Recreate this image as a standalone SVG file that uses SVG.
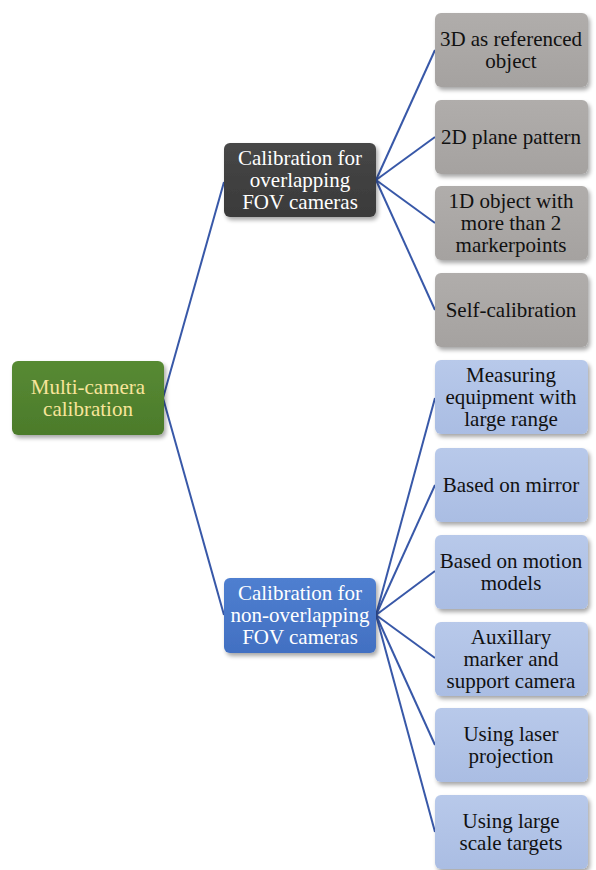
<svg xmlns="http://www.w3.org/2000/svg" width="596" height="870" viewBox="0 0 596 870">
<defs>
<filter id="sh" x="-10%" y="-10%" width="125%" height="130%">
<feGaussianBlur in="SourceAlpha" stdDeviation="2"/>
<feOffset dx="2" dy="3" result="b"/>
<feComponentTransfer><feFuncA type="linear" slope="0.35"/></feComponentTransfer>
<feMerge><feMergeNode/><feMergeNode in="SourceGraphic"/></feMerge>
</filter>
<linearGradient id="gGreen" x1="0" y1="0" x2="0" y2="1"><stop offset="0" stop-color="#578a33"/><stop offset="1" stop-color="#4c7b2b"/></linearGradient>
<linearGradient id="gDark" x1="0" y1="0" x2="0" y2="1"><stop offset="0" stop-color="#474747"/><stop offset="1" stop-color="#3a3a3a"/></linearGradient>
<linearGradient id="gBlue" x1="0" y1="0" x2="0" y2="1"><stop offset="0" stop-color="#4f7fd0"/><stop offset="1" stop-color="#4270c2"/></linearGradient>
<linearGradient id="gGray" x1="0" y1="0" x2="0" y2="1"><stop offset="0" stop-color="#b0adab"/><stop offset="1" stop-color="#a5a2a0"/></linearGradient>
<linearGradient id="gLBlue" x1="0" y1="0" x2="0" y2="1"><stop offset="0" stop-color="#b8c9ea"/><stop offset="1" stop-color="#aabde3"/></linearGradient>
</defs>
<style>
.box{filter:url(#sh);}
.lt{fill:#ffffff;}
.yl{fill:#f8e59a;}
.dk{fill:#111111;}
.edge{stroke:#3858a8;stroke-width:2;fill:none;}
</style>
<g id="connectors">
<path class="edge" d="M163,398 L224,182"/>
<path class="edge" d="M163,398 L224,615"/>
<path class="edge" d="M376,180 L435,50"/>
<path class="edge" d="M376,180 L435,137"/>
<path class="edge" d="M376,180 L435,223"/>
<path class="edge" d="M376,180 L435,310"/>
<path class="edge" d="M376,615 L435,398"/>
<path class="edge" d="M376,615 L435,485"/>
<path class="edge" d="M376,615 L435,571"/>
<path class="edge" d="M376,615 L435,658"/>
<path class="edge" d="M376,615 L435,745"/>
<path class="edge" d="M376,615 L435,832"/>
</g>
<g font-family="Liberation Serif" font-size="21" text-anchor="middle">
<g id="root">
<rect class="box" x="12" y="361" width="152" height="74" rx="6" fill="url(#gGreen)"/>
<text class="yl" x="88" y="394">Multi-camera</text>
<text class="yl" x="88" y="416">calibration</text>
</g>
<g id="overlap">
<rect class="box" x="224" y="143" width="152" height="74" rx="6" fill="url(#gDark)"/>
<text class="lt" x="300" y="165">Calibration for</text>
<text class="lt" x="300" y="187">overlapping</text>
<text class="lt" x="300" y="209">FOV cameras</text>
</g>
<g id="nonoverlap">
<rect class="box" x="224" y="578" width="152" height="75" rx="6" fill="url(#gBlue)"/>
<text class="lt" x="300" y="600">Calibration for</text>
<text class="lt" x="300" y="622">non-overlapping</text>
<text class="lt" x="300" y="644">FOV cameras</text>
</g>
<g id="leaf1">
<rect class="box" x="435" y="13" width="153" height="74" rx="6" fill="url(#gGray)"/>
<text class="dk" x="511" y="46">3D as referenced</text>
<text class="dk" x="511" y="68">object</text>
</g>
<g id="leaf2">
<rect class="box" x="435" y="100" width="153" height="74" rx="6" fill="url(#gGray)"/>
<text class="dk" x="511" y="144">2D plane pattern</text>
</g>
<g id="leaf3">
<rect class="box" x="435" y="186" width="153" height="74" rx="6" fill="url(#gGray)"/>
<text class="dk" x="511" y="208">1D object with</text>
<text class="dk" x="511" y="230">more than 2</text>
<text class="dk" x="511" y="252">markerpoints</text>
</g>
<g id="leaf4">
<rect class="box" x="435" y="273" width="153" height="74" rx="6" fill="url(#gGray)"/>
<text class="dk" x="511" y="317">Self-calibration</text>
</g>
<g id="leaf5">
<rect class="box" x="435" y="360" width="153" height="74" rx="6" fill="url(#gLBlue)"/>
<text class="dk" x="511" y="382">Measuring</text>
<text class="dk" x="511" y="404">equipment with</text>
<text class="dk" x="511" y="426">large range</text>
</g>
<g id="leaf6">
<rect class="box" x="435" y="448" width="153" height="74" rx="6" fill="url(#gLBlue)"/>
<text class="dk" x="511" y="492">Based on mirror</text>
</g>
<g id="leaf7">
<rect class="box" x="435" y="535" width="153" height="74" rx="6" fill="url(#gLBlue)"/>
<text class="dk" x="511" y="568">Based on motion</text>
<text class="dk" x="511" y="590">models</text>
</g>
<g id="leaf8">
<rect class="box" x="435" y="622" width="153" height="74" rx="6" fill="url(#gLBlue)"/>
<text class="dk" x="511" y="644">Auxillary</text>
<text class="dk" x="511" y="666">marker and</text>
<text class="dk" x="511" y="688">support camera</text>
</g>
<g id="leaf9">
<rect class="box" x="435" y="708" width="153" height="74" rx="6" fill="url(#gLBlue)"/>
<text class="dk" x="511" y="741">Using laser</text>
<text class="dk" x="511" y="763">projection</text>
</g>
<g id="leaf10">
<rect class="box" x="435" y="795" width="153" height="74" rx="6" fill="url(#gLBlue)"/>
<text class="dk" x="511" y="828">Using large</text>
<text class="dk" x="511" y="850">scale targets</text>
</g>
</g>
</svg>
